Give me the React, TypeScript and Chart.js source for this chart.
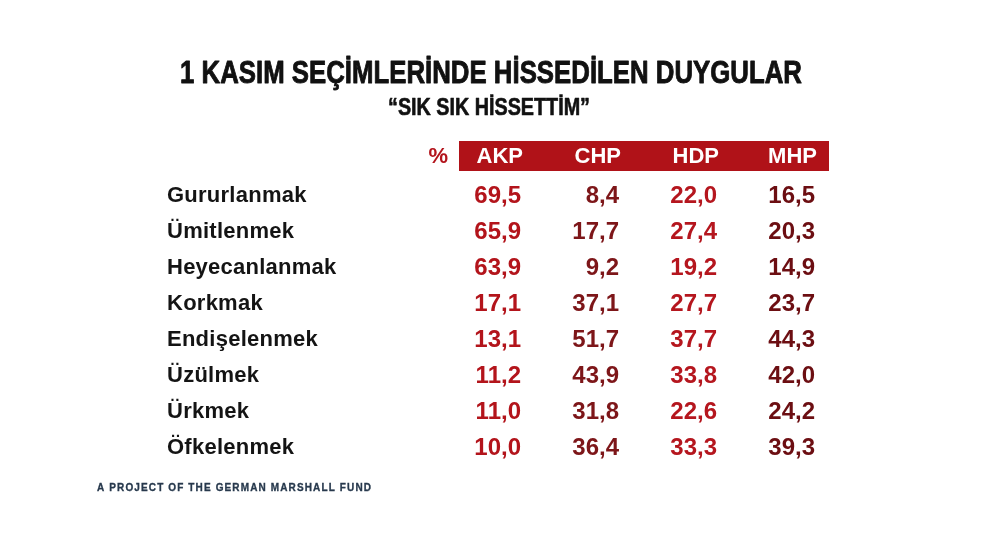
import React, { useEffect, useRef } from "react";
import { Chart, registerables } from "chart.js";

Chart.register(...registerables);

const TITLE = "1 KASIM SEÇİMLERİNDE HİSSEDİLEN DUYGULAR";
const SUBTITLE = "“SIK SIK HİSSETTİM”";
const FOOTER = "A PROJECT OF THE GERMAN MARSHALL FUND";
const UNIT = "%";

const PARTIES = ["AKP", "CHP", "HDP", "MHP"];
const EMOTIONS = [
  "Gururlanmak",
  "Ümitlenmek",
  "Heyecanlanmak",
  "Korkmak",
  "Endişelenmek",
  "Üzülmek",
  "Ürkmek",
  "Öfkelenmek",
];
const AKP = [69.5, 65.9, 63.9, 17.1, 13.1, 11.2, 11.0, 10.0];
const CHP = [8.4, 17.7, 9.2, 37.1, 51.7, 43.9, 31.8, 36.4];
const HDP = [22.0, 27.4, 19.2, 27.7, 37.7, 33.8, 22.6, 33.3];
const MHP = [16.5, 20.3, 14.9, 23.7, 44.3, 42.0, 24.2, 39.3];
const SERIES = [AKP, CHP, HDP, MHP];
const COLORS = ["#b3141b", "#7d1619", "#b5161e", "#6c0e12"];

const SANS = "'Liberation Sans', Arial, Helvetica, sans-serif";

function fmt(v: number) {
  return v.toFixed(1).replace(".", ",");
}

function drawFitted(
  ctx: CanvasRenderingContext2D,
  text: string,
  left: number,
  baseline: number,
  width: number,
  stroke = 0
) {
  ctx.save();
  (ctx as any).letterSpacing = "0px";
  ctx.textAlign = "left";
  ctx.textBaseline = "alphabetic";
  const w = ctx.measureText(text).width;
  if (w > width) {
    ctx.translate(left, baseline);
    ctx.scale(width / w, 1);
    ctx.fillText(text, 0, 0);
    if (stroke > 0) {
      ctx.lineWidth = stroke;
      ctx.strokeStyle = ctx.fillStyle as string;
      ctx.lineJoin = "round";
      ctx.strokeText(text, 0, 0);
    }
  } else {
    const n = Array.from(text).length;
    const ls = n > 1 ? (width - w) / (n - 1) : 0;
    (ctx as any).letterSpacing = ls + "px";
    ctx.fillText(text, left, baseline);
    if (stroke > 0) {
      ctx.lineWidth = stroke;
      ctx.strokeStyle = ctx.fillStyle as string;
      ctx.strokeText(text, left, baseline);
    }
  }
  ctx.restore();
}

const tablePlugin = {
  id: "tableText",
  beforeDraw(chart: any) {
    (chart.ctx as any).letterSpacing = "0.25px";
  },
  afterDatasetsDraw(chart: any) {
    const ctx: CanvasRenderingContext2D = chart.ctx;
    ctx.save();
    (ctx as any).letterSpacing = "0px";
    ctx.font = `bold 24px ${SANS}`;
    ctx.textAlign = "right";
    ctx.textBaseline = "alphabetic";
    chart.data.datasets.forEach((ds: any, d: number) => {
      const meta = chart.getDatasetMeta(d);
      ctx.fillStyle = COLORS[d];
      meta.data.forEach((pt: any, i: number) => {
        ctx.fillText(fmt(ds.data[i].v), pt.x, pt.y + 7.3);
      });
    });
    ctx.restore();
  },
  afterDraw(chart: any) {
    const ctx: CanvasRenderingContext2D = chart.ctx;
    const xs = chart.scales.x;
    const ys = chart.scales.y;
    const y0 = ys.getPixelForValue(0);
    ctx.save();
    (ctx as any).letterSpacing = "0px";

    // header bar
    const barL = xs.getPixelForValue(0) - 62;
    const barR = xs.getPixelForValue(PARTIES.length - 1) + 14;
    ctx.fillStyle = "#b01218";
    ctx.fillRect(barL, y0 - 54.7, barR - barL, 30);

    ctx.font = `bold 22px ${SANS}`;
    ctx.textBaseline = "alphabetic";
    ctx.textAlign = "right";
    ctx.fillStyle = "#ffffff";
    PARTIES.forEach((p, i) => {
      ctx.fillText(p, xs.getPixelForValue(i) + 2, y0 - 32.5);
    });
    ctx.fillStyle = "#b3141c";
    ctx.fillText(UNIT, xs.getPixelForValue(0) - 73, y0 - 32.5);

    // titles
    ctx.fillStyle = "#111111";
    ctx.font = `bold 32px ${SANS}`;
    drawFitted(ctx, TITLE, 180, 83.3, 622, 0.9);
    ctx.font = `bold 23px ${SANS}`;
    drawFitted(ctx, SUBTITLE, 388, 115, 202, 0.6);

    // footer
    ctx.fillStyle = "#27394d";
    ctx.font = `bold 10px ${SANS}`;
    drawFitted(ctx, FOOTER, 97, 491, 274, 0.3);

    ctx.restore();
    (ctx as any).letterSpacing = "0px";
  },
};

export default function App() {
  const ref = useRef<HTMLCanvasElement>(null);
  useEffect(() => {
    const canvas = ref.current!;
    const chart = new Chart(canvas, {
      type: "scatter",
      data: {
        datasets: PARTIES.map((p, d) => ({
          label: p,
          data: EMOTIONS.map((e, i) => ({ x: p, y: e, v: SERIES[d][i] })) as any,
          pointRadius: 0,
          pointHoverRadius: 0,
          showLine: false,
          backgroundColor: COLORS[d],
          borderColor: COLORS[d],
        })),
      },
      options: {
        animation: false,
        responsive: false,
        devicePixelRatio: 1,
        events: [],
        layout: { padding: { top: 195.7, bottom: 107.3, left: 167, right: 171 } },
        plugins: {
          legend: { display: false },
          tooltip: { enabled: false },
          title: { display: false },
        },
        scales: {
          x: {
            type: "category",
            labels: PARTIES,
            offset: false,
            display: false,
          },
          y: {
            type: "category",
            labels: EMOTIONS,
            offset: false,
            position: "left",
            grid: { display: false, drawTicks: false },
            border: { display: false },
            ticks: {
              crossAlign: "far",
              color: "#141414",
              padding: 0,
              autoSkip: false,
              font: { family: SANS, size: 22, weight: "bold" },
            },
            afterFit: (s: any) => {
              s.width = 354;
            },
          },
        },
      } as any,
      plugins: [tablePlugin],
    });
    return () => chart.destroy();
  }, []);
  return (
    <div style={{ position: "absolute", left: 0, top: 0, width: 986, height: 555, background: "#ffffff" }}>
      <canvas ref={ref} width={986} height={555} style={{ display: "block" }} />
    </div>
  );
}
